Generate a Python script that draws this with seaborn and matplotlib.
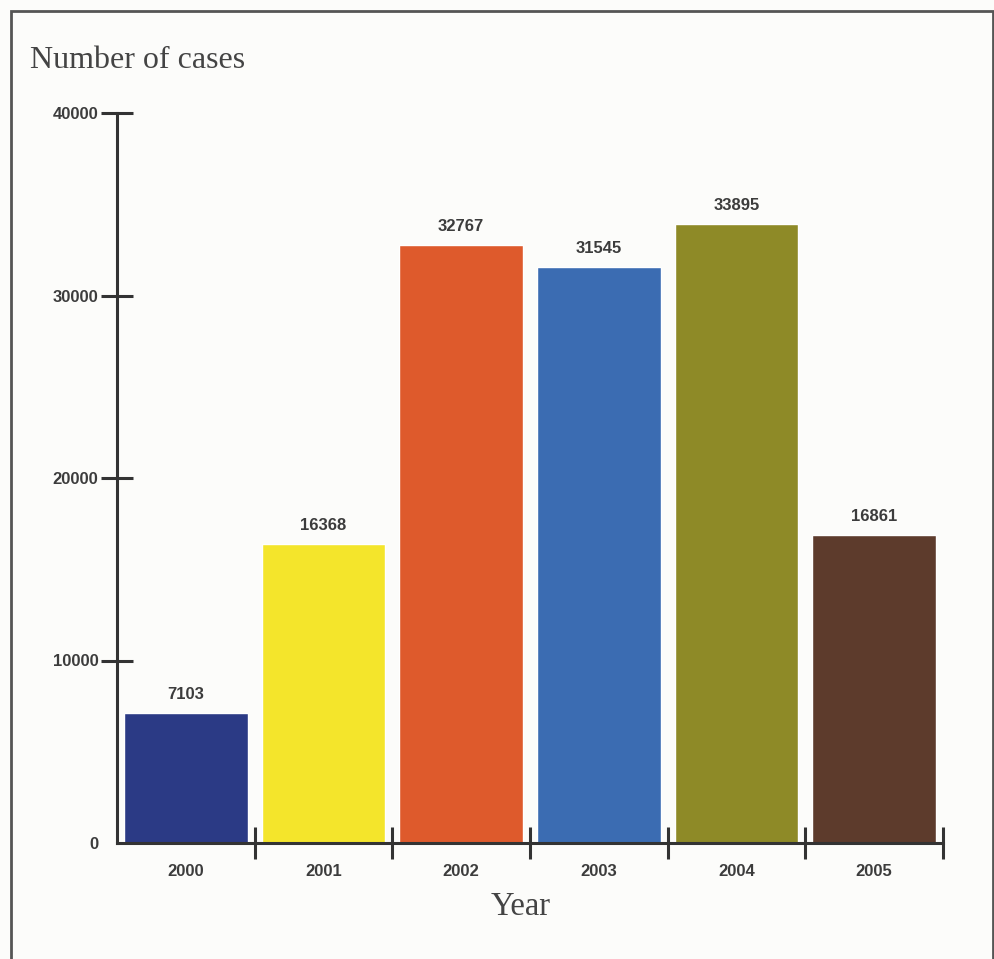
import matplotlib
matplotlib.use("Agg")
import matplotlib.pyplot as plt
from matplotlib.patches import Rectangle
import numpy as np
import pandas as pd
import seaborn as sns

# Data
years = ["2000", "2001", "2002", "2003", "2004", "2005"]
cases = [7103, 16368, 32767, 31545, 33895, 16861]
bar_colors = ["#2b3a85", "#f4e52b", "#de5a2c", "#3b6cb2", "#8e8a27", "#5d3b2c"]
y_ticks = [0, 10000, 20000, 30000, 40000]

df = pd.DataFrame({"year": years, "cases": cases})

sns.set_style("white")
axis_color = "#333333"
text_color = "#3c3c3c"

fig = plt.figure(figsize=(9.94, 9.59), dpi=100, facecolor="#fcfcfa")
ax = fig.add_axes([117 / 994, 1 - 843 / 959, (943 - 117) / 994, (843 - 113) / 959])
ax.set_facecolor("#fcfcfa")

sns.barplot(
    data=df, x="year", y="cases", hue="year", palette=bar_colors,
    width=0.9, legend=False, saturation=1, ax=ax
)

# value labels above the bars
for cont in ax.containers:
    ax.bar_label(cont, fmt="%d", padding=8, fontsize=12, fontweight="bold",
                 color=text_color, family="Liberation Sans")

ax.set_xlim(-0.5, 5.5)
ax.set_ylim(0, 40000)
ax.set_yticks(y_ticks)
ax.set_xlabel("")
ax.set_ylabel("")

for side in ["top", "right"]:
    ax.spines[side].set_visible(False)
for side in ["left", "bottom"]:
    ax.spines[side].set_color(axis_color)
    ax.spines[side].set_linewidth(2.2)

# x ticks sit between the bars, labels in the middle
ax.set_xticks(np.arange(0.5, 6, 1), minor=True)
ax.tick_params(axis="x", which="minor", direction="inout", length=23, width=2.2,
               color=axis_color, bottom=True)
ax.tick_params(axis="x", which="major", length=0, pad=15)
ax.tick_params(axis="y", direction="inout", length=23, width=2.2,
               color=axis_color, pad=2, left=True)
ax.yaxis.get_major_ticks()[0].tick1line.set_visible(False)

for lab in ax.get_xticklabels() + ax.get_yticklabels():
    lab.set_fontsize(12)
    lab.set_fontweight("bold")
    lab.set_color(text_color)
    lab.set_family("Liberation Sans")

fig.text(30 / 994, 1 - 60 / 959, "Number of cases", ha="left", va="center",
         family="Liberation Serif", fontsize=23, color="#444444")
fig.text(521 / 994, 1 - 907 / 959, "Year", ha="center", va="center",
         family="Liberation Serif", fontsize=23.5, color="#444444")

# outer frame
frame = Rectangle((11 / 994, -0.02), (993 - 11) / 994, 1 - 11 / 959 + 0.02,
                  transform=fig.transFigure, fill=False, edgecolor="#555555",
                  linewidth=2, zorder=10)
fig.patches.append(frame)

fig.savefig("out.png", dpi=100, facecolor=fig.get_facecolor())
